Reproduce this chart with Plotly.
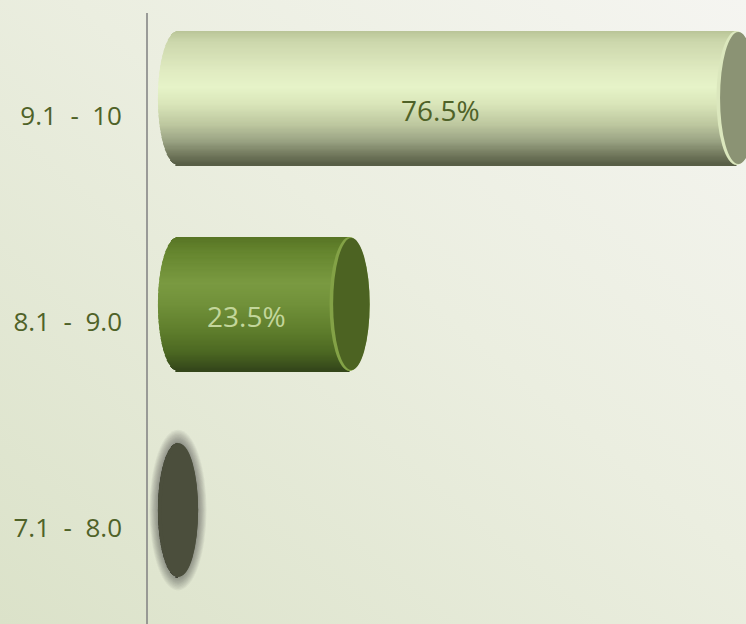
import base64
import math
import plotly.graph_objects as go

# ---------------- data ----------------
categories = ["7.1 - 8.0", "8.1 - 9.0", "9.1 - 10"]
values = [0.0, 23.5, 76.5]
value_labels = ["", "23.5%", "76.5%"]
positions = [0, 1, 2]

# ---------------- styles ----------------
body_stops = [
    [(0.0, "#4b4e3c"), (1.0, "#4b4e3c")],
    [(0.0, "#577424"), (0.12, "#66862f"), (0.35, "#7a9a41"), (0.5, "#71913a"),
     (0.7, "#5f7e2c"), (0.86, "#4c6822"), (1.0, "#33451a")],
    [(0.0, "#b9c497"), (0.08, "#ccd7ac"), (0.3, "#e0ebc1"), (0.42, "#e6f3c8"),
     (0.55, "#d9e5b9"), (0.7, "#bdc79f"), (0.82, "#9ba484"), (0.92, "#747b5f"),
     (1.0, "#565c44")],
]
face_colors = ["#4b4e3c", "#4c6322", "#8b9374"]
rim_colors = ["#4b4e3c", "#83a246", "#dbe7bd"]
label_colors = ["#4f6228", "#c3d69b", "#4f6228"]
glow = [True, False, False]
tick_color = "#4f6228"

BAR_H = 0.65      # bar thickness in category units
RX = 2.75         # end-cap half width in value units
N = 110           # shading strips


def hex2rgb(h):
    h = h.lstrip("#")
    return tuple(int(h[i:i + 2], 16) for i in (0, 2, 4))


def interp(stops, t):
    for (t0, c0), (t1, c1) in zip(stops[:-1], stops[1:]):
        if t0 <= t <= t1:
            f = 0 if t1 == t0 else (t - t0) / (t1 - t0)
            a, b = hex2rgb(c0), hex2rgb(c1)
            return "rgb(%d,%d,%d)" % tuple(round(a[k] + (b[k] - a[k]) * f) for k in range(3))
    return stops[-1][1]


fig = go.Figure()

for i in range(N):
    t = (i + 0.5) / N
    u = -1 + 2 * t
    half = math.sqrt(max(0.0, 1 - u * u))
    bases = [-RX * half for _ in values]
    lengths = [v + RX * half for v in values]
    fig.add_trace(go.Bar(
        orientation="h",
        y=positions,
        x=lengths,
        base=bases,
        offset=BAR_H / 2 - (i + 1) * BAR_H / N,
        width=BAR_H / N * 1.15,
        marker=dict(color=[interp(s, t) for s in body_stops], line=dict(width=0)),
        hoverinfo="skip",
        showlegend=False,
    ))

shapes = []
for k, (p, v) in enumerate(zip(positions, values)):
    if glow[k]:
        steps = 10
        for j in range(steps):
            f = 1 - j / steps
            gx = 1.0 + 0.42 * f
            gy = 1.0 + 0.2 * f
            shapes.append(dict(type="circle", xref="x", yref="y",
                               x0=v - RX * gx, x1=v + RX * gx,
                               y0=p - BAR_H / 2 * gy, y1=p + BAR_H / 2 * gy,
                               fillcolor="rgba(60,62,50,0.055)", line=dict(width=0), layer="above"))
    shapes.append(dict(type="circle", xref="x", yref="y",
                       x0=v - RX, x1=v + RX, y0=p - BAR_H / 2, y1=p + BAR_H / 2,
                       fillcolor=rim_colors[k], line=dict(width=0), layer="above"))
    shapes.append(dict(type="circle", xref="x", yref="y",
                       x0=v - RX * 0.82, x1=v + RX, y0=p - BAR_H / 2 * 0.985, y1=p + BAR_H / 2 * 0.985,
                       fillcolor=face_colors[k], line=dict(width=0), layer="above"))

# axis line
shapes.append(dict(type="line", xref="paper", yref="paper", x0=0, x1=0,
                   y0=0, y1=(624 - 13) / 624, line=dict(color="#868686", width=1.6)))

annotations = []
for k, (p, v, lab) in enumerate(zip(positions, values, value_labels)):
    if lab:
        annotations.append(dict(x=v / 2, y=p, xref="x", yref="y", text=lab, showarrow=False,
                                xshift=-17, yshift=-12,
                                font=dict(family="Open Sans, Lato, sans-serif", size=28,
                                          color=label_colors[k])))

# background gradient
svg = ('<svg xmlns="http://www.w3.org/2000/svg" width="746" height="624">'
       '<defs><linearGradient id="g" x1="1" y1="0" x2="0" y2="1">'
       '<stop offset="0" stop-color="#f5f5f1"/>'
       '<stop offset="0.45" stop-color="#ebeee0"/>'
       '<stop offset="1" stop-color="#dbe2c9"/>'
       '</linearGradient></defs>'
       '<rect width="746" height="624" fill="url(#g)"/></svg>')
src = "data:image/svg+xml;base64," + base64.b64encode(svg.encode()).decode()

L = 147
W = 746 - L
fig.update_layout(
    width=746, height=624,
    margin=dict(l=L, r=0, t=0, b=0),
    paper_bgcolor="#e9ecdf",
    plot_bgcolor="rgba(0,0,0,0)",
    barmode="overlay",
    showlegend=False,
    hovermode=False,
    shapes=shapes,
    annotations=annotations,
    images=[dict(source=src, xref="paper", yref="paper", x=-L / W, y=1,
                 sizex=746 / W, sizey=1, sizing="stretch", layer="below",
                 xanchor="left", yanchor="top")],
    xaxis=dict(range=[-4.25, 77.8], visible=False, fixedrange=True),
    yaxis=dict(range=[-0.553, 2.476], tickvals=positions, fixedrange=True,
               ticktext=[c.replace(" ", "\u00a0\u00a0") for c in categories],
               showgrid=False, zeroline=False, showline=False, ticks="",
               ticklabelstandoff=24, ticklabelshift=18,
               tickfont=dict(family="Open Sans, Lato, sans-serif", size=26, color=tick_color)),
)

fig.write_html("out.html", config={"displayModeBar": False},
               post_script="document.body.style.margin='0';document.body.style.padding='0';")
